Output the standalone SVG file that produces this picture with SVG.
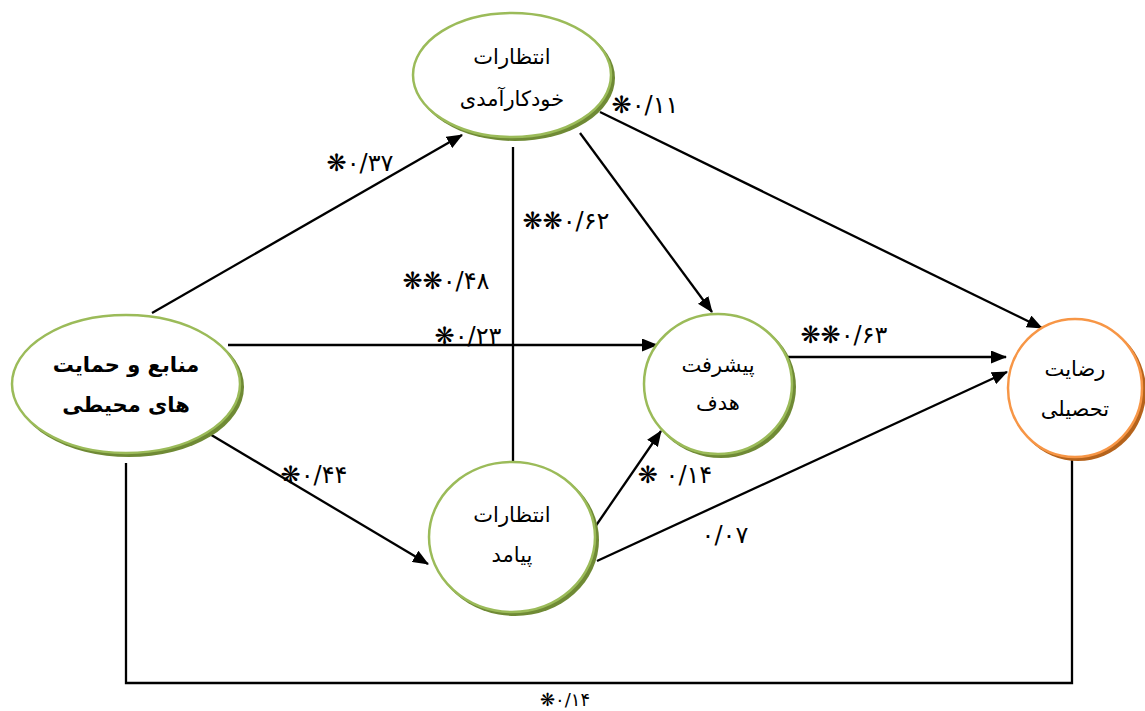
<svg xmlns="http://www.w3.org/2000/svg" width="1145" height="711" viewBox="0 0 1145 711">
<style>
.sh{fill:#6f8a35;stroke:none}
.shO{fill:#b5631c;stroke:none}
.nd{fill:#fff;stroke:#9bbb59;stroke-width:2.5}
.ndO{fill:#fff;stroke:#f79646;stroke-width:2.5}
.t{font-family:'DejaVu Sans',sans-serif;font-size:21px;fill:#000;text-anchor:middle}
.b{font-weight:bold}
.lb{font-family:'DejaVu Sans',sans-serif;font-size:24px;fill:#000;text-anchor:middle;direction:ltr;unicode-bidi:bidi-override}
.ln{fill:none;stroke:#000;stroke-width:2.3}
</style>
<defs>
<marker id="ah" viewBox="0 0 16 13" refX="15" refY="6.5" markerWidth="16" markerHeight="13" markerUnits="userSpaceOnUse" orient="auto">
<path d="M0,0 L16,6.5 L0,13 Z" fill="#000"/>
</marker>
</defs>
<g id="connectors">
<line class="ln" x1="152" y1="313" x2="462" y2="135" marker-end="url(#ah)"/>
<line class="ln" x1="513" y1="147" x2="513" y2="462"/>
<line class="ln" x1="580" y1="133" x2="712" y2="312" marker-end="url(#ah)"/>
<line class="ln" x1="600" y1="112" x2="1042" y2="328" marker-end="url(#ah)"/>
<line class="ln" x1="228" y1="345" x2="657" y2="345" marker-end="url(#ah)"/>
<line class="ln" x1="208" y1="433" x2="428" y2="564" marker-end="url(#ah)"/>
<line class="ln" x1="595" y1="527" x2="661" y2="431" marker-end="url(#ah)"/>
<line class="ln" x1="597" y1="561" x2="1007" y2="372" marker-end="url(#ah)"/>
<line class="ln" x1="777" y1="357" x2="1006" y2="357" marker-end="url(#ah)"/>
<polyline class="ln" points="126,463 126,683 1072,683 1072,457"/>
<text class="lb" x="360" y="171">❋۰/۳۷</text>
<text class="lb" x="566" y="229">❋❋۰/۶۲</text>
<text class="lb" x="446" y="289">❋❋۰/۴۸</text>
<text class="lb" x="468" y="344">❋۰/۲۳</text>
<text class="lb" x="645" y="113">❋۰/۱۱</text>
<text class="lb" x="844" y="343">❋❋۰/۶۳</text>
<text class="lb" x="314" y="483">❋۰/۴۴</text>
<text class="lb" x="675" y="483">❋ ۰/۱۴</text>
<text class="lb" x="725" y="543">۰/۰۷</text>
<text class="lb" x="565" y="706" style="font-size:18px">❋۰/۱۴</text>
</g>
<g id="node-selfefficacy">
<ellipse class="sh" cx="515" cy="78" rx="100" ry="63"/>
<ellipse class="nd" cx="512" cy="75" rx="99" ry="62"/>
<text class="t" x="512" y="64">انتظارات</text>
<text class="t" x="512" y="106">خودکارآمدی</text>
</g>
<g id="node-resources">
<ellipse class="sh" cx="129" cy="387" rx="115" ry="70"/>
<ellipse class="nd" cx="126" cy="384" rx="114" ry="69"/>
<text class="t b" x="126" y="372">منابع و حمایت</text>
<text class="t b" x="126" y="412">های محیطی</text>
</g>
<g id="node-goal">
<ellipse class="sh" cx="721" cy="387" rx="75" ry="71"/>
<ellipse class="nd" cx="718" cy="384" rx="74" ry="70"/>
<text class="t" x="718" y="372">پیشرفت</text>
<text class="t" x="718" y="410">هدف</text>
</g>
<g id="node-satisfaction">
<ellipse class="shO" cx="1078" cy="391" rx="68" ry="70"/>
<ellipse class="ndO" cx="1075" cy="388" rx="67" ry="69"/>
<text class="t" x="1075" y="376">رضایت</text>
<text class="t" x="1075" y="416">تحصیلی</text>
</g>
<g id="node-outcome">
<ellipse class="sh" cx="515" cy="540" rx="84" ry="76"/>
<ellipse class="nd" cx="512" cy="537" rx="83" ry="75"/>
<text class="t" x="512" y="522">انتظارات</text>
<text class="t" x="512" y="562">پیامد</text>
</g>
</svg>
